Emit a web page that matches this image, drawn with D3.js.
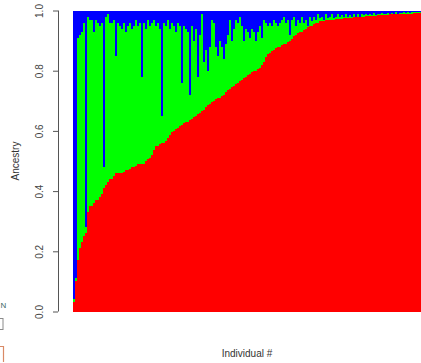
<!DOCTYPE html>
<html>
<head>
<meta charset="utf-8">
<script src="https://cdn.jsdelivr.net/npm/d3@7"></script>
<style>
  html, body { margin: 0; padding: 0; background: #ffffff; }
  svg { display: block; }
  text { font-family: "Liberation Sans", Arial, sans-serif; }
</style>
</head>
<body>
<svg id="chart" width="421" height="363"></svg>
<script>
// Ancestry proportions per individual (sorted by red component)
const red = [
  0.03,0.10,0.17,0.21,0.23,0.25,0.26,0.33,0.35,0.35,
  0.36,0.37,0.37,0.38,0.39,0.41,0.42,0.43,0.44,0.44,
  0.45,0.46,0.46,0.46,0.46,0.465,0.47,0.47,0.475,0.48,
  0.48,0.485,0.49,0.49,0.49,0.49,0.50,0.505,0.51,0.52,
  0.535,0.55,0.55,0.555,0.56,0.56,0.565,0.575,0.585,0.595,
  0.60,0.605,0.61,0.615,0.62,0.625,0.63,0.63,0.635,0.64,
  0.645,0.65,0.655,0.66,0.665,0.67,0.68,0.685,0.69,0.695,
  0.70,0.705,0.71,0.71,0.715,0.72,0.73,0.735,0.74,0.745,
  0.75,0.755,0.76,0.765,0.77,0.775,0.78,0.785,0.79,0.795,
  0.80,0.80,0.805,0.81,0.82,0.83,0.845,0.855,0.86,0.865,
  0.87,0.875,0.88,0.88,0.885,0.89,0.89,0.895,0.90,0.905,
  0.915,0.92,0.925,0.93,0.93,0.935,0.94,0.945,0.95,0.95,
  0.955,0.96,0.96,0.965,0.965,0.965,0.968,0.968,0.97,0.97,
  0.97,0.971,0.972,0.972,0.973,0.974,0.974,0.975,0.975,0.976,
  0.977,0.978,0.978,0.979,0.98,0.98,0.981,0.981,0.982,0.982,
  0.983,0.983,0.984,0.984,0.985,0.985,0.986,0.986,0.987,0.987,
  0.988,0.988,0.988,0.989,0.989,0.989,0.99,0.99,0.99,0.99,
  0.991,0.991,0.991,0.992,0.992
];
const green = [
  0.01,0.01,0.74,0.71,0.70,0.71,0.02,0.65,0.62,0.62,
  0.57,0.60,0.59,0.57,0.57,0.07,0.56,0.56,0.52,0.52,
  0.52,0.39,0.50,0.49,0.48,0.495,0.46,0.48,0.485,0.46,
  0.47,0.485,0.46,0.47,0.29,0.47,0.44,0.465,0.44,0.44,
  0.435,0.40,0.41,0.385,0.09,0.40,0.385,0.395,0.355,0.365,
  0.35,0.325,0.35,0.335,0.14,0.325,0.31,0.30,0.085,0.31,
  0.255,0.29,0.125,0.26,0.325,0.16,0.19,0.115,0.19,0.275,
  0.26,0.175,0.14,0.19,0.165,0.12,0.16,0.185,0.23,0.155,
  0.19,0.215,0.20,0.215,0.18,0.125,0.16,0.145,0.12,0.145,
  0.13,0.10,0.125,0.14,0.09,0.14,0.115,0.095,0.10,0.085,
  0.10,0.085,0.07,0.08,0.085,0.09,0.07,0.075,0.02,0.065,
  0.065,0.03,0.045,0.03,0.05,0.025,0.03,0.005,0.03,0.015,
  0.025,0.01,0.03,0.01,0.015,0.005,0.022,0.007,0.01,0.02,
  0.005,0.009,0.018,0.008,0.012,0.006,0.016,0.005,0.01,0.004,
  0.013,0.002,0.01,0.001,0.01,0.005,0.009,0.003,0.008,0.003,
  0.009,0.003,0.006,0.004,0.007,0.003,0.004,0.006,0.003,0.005,
  0.002,0.006,0.002,0.004,0.003,0.005,0.003,0.004,0.002,0.005,
  0.003,0.004,0.003,0.003,0.003
];
const blue = [
  0.96,0.89,0.09,0.08,0.07,0.04,0.72,0.02,0.03,0.03,
  0.07,0.03,0.04,0.05,0.04,0.52,0.02,0.01,0.04,0.04,
  0.03,0.15,0.04,0.05,0.06,0.04,0.07,0.05,0.04,0.06,
  0.05,0.03,0.05,0.04,0.22,0.04,0.06,0.03,0.05,0.04,
  0.03,0.05,0.04,0.06,0.35,0.04,0.05,0.03,0.06,0.04,
  0.05,0.07,0.04,0.05,0.24,0.05,0.06,0.07,0.28,0.05,
  0.10,0.06,0.22,0.08,0.01,0.17,0.13,0.20,0.12,0.03,
  0.04,0.12,0.15,0.10,0.12,0.16,0.11,0.08,0.03,0.10,
  0.06,0.03,0.04,0.02,0.05,0.10,0.06,0.07,0.09,0.06,
  0.07,0.10,0.07,0.05,0.09,0.03,0.04,0.05,0.04,0.05,
  0.03,0.04,0.05,0.04,0.03,0.02,0.04,0.03,0.08,0.03,
  0.02,0.05,0.03,0.04,0.02,0.04,0.03,0.05,0.02,0.035,
  0.02,0.03,0.01,0.025,0.02,0.03,0.01,0.025,0.02,0.01,
  0.025,0.02,0.01,0.02,0.015,0.02,0.01,0.02,0.015,0.02,
  0.01,0.02,0.012,0.02,0.01,0.015,0.01,0.016,0.01,0.015,
  0.008,0.014,0.01,0.012,0.008,0.012,0.01,0.008,0.01,0.008,
  0.01,0.006,0.01,0.007,0.008,0.006,0.007,0.006,0.008,0.005,
  0.006,0.005,0.006,0.005,0.005
];
const seriesKeys = ["red", "green", "blue"];
const seriesColors = ["#ff0000", "#00ff00", "#0000ff"];
const yTicks = [0, 0.2, 0.4, 0.6, 0.8, 1.0];
const yTickLabels = ["0.0", "0.2", "0.4", "0.6", "0.8", "1.0"];
const yTitle = "Ancestry";
const xTitle = "Individual #";

const table = red.map((r, i) => ({ id: i, red: r, green: green[i], blue: blue[i] }));

const svg = d3.select("#chart");
const plot = { left: 73, right: 423, top: 10.5, bottom: 311.5 };

const x = d3.scaleBand()
  .domain(table.map(d => d.id))
  .range([plot.left, plot.right])
  .padding(0);

const y = d3.scaleLinear()
  .domain([0, 1])
  .range([plot.bottom, plot.top]);

const stacked = d3.stack().keys(seriesKeys)(table);
const color = d3.scaleOrdinal().domain(seriesKeys).range(seriesColors);

svg.append("g")
  .selectAll("g")
  .data(stacked)
  .join("g")
  .attr("fill", d => color(d.key))
  .selectAll("rect")
  .data(d => d)
  .join("rect")
  .attr("shape-rendering", "crispEdges")
  .attr("x", d => x(d.data.id))
  .attr("width", x.bandwidth())
  .attr("y", d => y(d[1]))
  .attr("height", d => Math.max(0, y(d[0]) - y(d[1])));

// R-style y axis
const axisX = 58;
const yAxis = d3.axisLeft(y)
  .tickValues(yTicks)
  .tickFormat((d, i) => yTickLabels[i])
  .tickSize(5)
  .tickSizeOuter(0);

const gy = svg.append("g")
  .attr("transform", `translate(${axisX},0)`)
  .call(yAxis);
gy.select(".domain")
  .attr("stroke", "#555")
  .attr("d", `M0.5,${y(0)}V${y(1)}`);
gy.selectAll(".tick line").attr("stroke", "#555");
gy.selectAll(".tick text")
  .attr("fill", "#444")
  .attr("font-size", 10)
  .attr("font-family", "Liberation Sans, Arial, sans-serif")
  .attr("text-anchor", "middle")
  .attr("x", null)
  .attr("dy", null)
  .attr("transform", "translate(-15,0) rotate(-90)");

svg.append("text")
  .attr("transform", `translate(18.5,${(plot.top + plot.bottom) / 2}) rotate(-90)`)
  .attr("text-anchor", "middle")
  .attr("font-size", 10)
  .attr("fill", "#333")
  .text(yTitle);

svg.append("text")
  .attr("x", 247)
  .attr("y", 357)
  .attr("text-anchor", "middle")
  .attr("font-size", 10)
  .attr("fill", "#333")
  .text(xTitle);

// small fragments at the left edge
svg.append("text")
  .attr("x", 0.5)
  .attr("y", 308)
  .attr("font-size", 8)
  .attr("fill", "#3c6864")
  .text("N");
svg.append("rect")
  .attr("x", -2).attr("y", 318.5).attr("width", 5).attr("height", 11)
  .attr("fill", "none").attr("stroke", "#8a8a8a");
svg.append("path")
  .attr("d", "M0,346.5H3.5V362")
  .attr("fill", "none").attr("stroke", "#d98a66").attr("stroke-width", 1.2);
</script>
</body>
</html>
